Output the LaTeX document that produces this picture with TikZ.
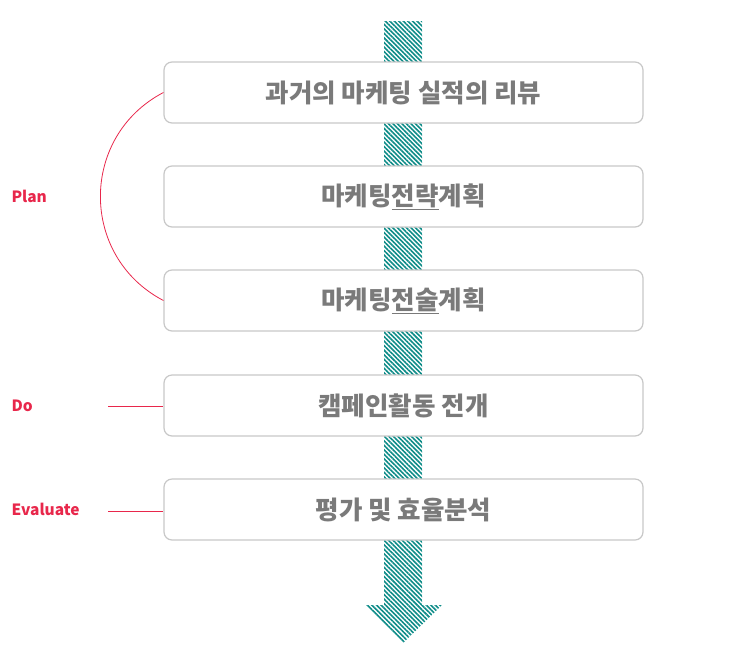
\documentclass[tikz,border=0pt]{standalone}
\usepackage{fontspec}
\usepackage{xcolor}
\usetikzlibrary{positioning,patterns.meta}
\newfontfamily\krfont{Noto Sans CJK KR}
\definecolor{stepgray}{HTML}{7A7A7A}
\definecolor{framegray}{HTML}{C8C8C8}
\definecolor{phasered}{HTML}{E8274B}
\definecolor{flowteal}{HTML}{0E8C88}
\tikzset{
    stepbox/.style={draw=framegray, line width=1.2pt, fill=white, rounded corners=8pt,
        minimum width=479pt, minimum height=61pt, font=\krfont\bfseries\fontsize{25.5}{28}\selectfont,
        text=stepgray},
    phase/.style={anchor=west, font=\krfont\bfseries\fontsize{15.5}{18}\selectfont, text=phasered},
    phaseline/.style={draw=phasered, line width=0.8pt}
}

\begin{document}
\begin{tikzpicture}[x=1pt, y=-1pt]
    \useasboundingbox (0,0) rectangle (738,654);

    % Flow arrow behind the steps
    \fill[white] (384,21) -- (422,21) -- (422,605) -- (442,605) -- (403,643) -- (365,605) -- (384,605) -- cycle;
    \fill[pattern={Lines[angle=-45,distance=3.2pt,line width=1.6pt]}, pattern color=flowteal]
        (384,21) -- (422,21) -- (422,605) -- (442,605) -- (403,643) -- (365,605) -- (384,605) -- cycle;

    % Steps
    \node[stepbox] (review) at (403.5,92.5) {과거의 마케팅 실적의 리뷰};
    \node[stepbox] (strategy) at (403.5,196.5) {마케팅\underline{전략}계획};
    \node[stepbox] (tactics) at (403.5,300.5) {마케팅\underline{전술}계획};
    \node[stepbox] (campaign) at (403.5,405.5) {캠페인활동 전개};
    \node[stepbox] (evaluate) at (403.5,509.5) {평가 및 효율분석};

    % Phases
    \node[phase] (plan) at (8,196) {Plan};
    \node[phase] (do) at (8,406) {Do};
    \node[phase] (eval) at (8,509) {Evaluate};
    \coordinate (doend) at (108,406);
    \coordinate (evalend) at (108,511);

    \draw[phaseline] (review.west) .. controls +(-84,44) and +(-84,-44) .. (tactics.west);
    \draw[phaseline] (doend) -- (doend -| campaign.west);
    \draw[phaseline] (evalend) -- (evalend -| evaluate.west);
\end{tikzpicture}
\end{document}
